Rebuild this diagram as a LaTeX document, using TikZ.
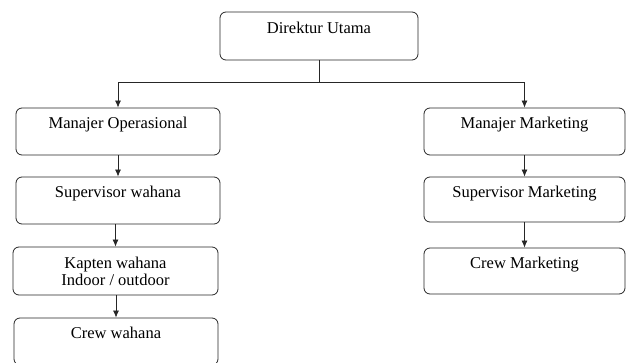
\documentclass[tikz,border=0pt]{standalone}
\usepackage{fontspec}
\setmainfont{Liberation Serif}
\usetikzlibrary{arrows.meta}

\tikzset{
  jabatan/.style={draw=black!85, line width=0.8pt, rounded corners=6pt, inner sep=0pt,
    minimum width=204pt, minimum height=47pt, text height=21pt, text depth=26pt,
    font=\fontsize{16.5}{18}\selectfont},
  jabatan2/.style={jabatan, text height=, text depth=, align=center},
  garis/.style={draw=black!85, line width=0.8pt},
  panah/.style={garis, -{Latex[length=7pt,width=6pt]}}
}

\begin{document}
\begin{tikzpicture}[x=1pt, y=-1pt]
\useasboundingbox (0,0) rectangle (633,363);

%direktur
\node[jabatan, minimum width=198pt, minimum height=48pt] (direktur) at (319,36) {Direktur Utama};
\coordinate (cabang) at (319,82);

%operasional
\node[jabatan] (mo) at (118,131.5) {Manajer Operasional};
\node[jabatan] (sw) at (118,200.5) {Supervisor wahana};
\node[jabatan2, minimum width=205pt, minimum height=48pt] (kw) at (115.5,271) {Kapten wahana\\[-1pt]Indoor / outdoor};
\node[jabatan] (cw) at (116,341.5) {Crew wahana};

%marketing
\node[jabatan, minimum width=201pt] (mm) at (524.5,131.5) {Manajer Marketing};
\node[jabatan, minimum width=201pt, minimum height=45pt, text depth=24pt] (sm) at (524.5,199.5) {Supervisor Marketing};
\node[jabatan, minimum width=201pt, minimum height=46pt, text depth=25pt] (cm) at (524.5,271) {Crew Marketing};

%garis
\draw[garis] (direktur) -- (cabang);
\draw[panah] (cabang) -| (mo);
\draw[panah] (cabang) -| (mm);
\draw[panah] (mo) -- (sw);
\draw[panah] (sw.south -| kw) -- (kw);
\draw[panah] (kw.south -| cw) -- (cw);
\draw[panah] (mm) -- (sm);
\draw[panah] (sm) -- (cm);

\end{tikzpicture}
\end{document}
